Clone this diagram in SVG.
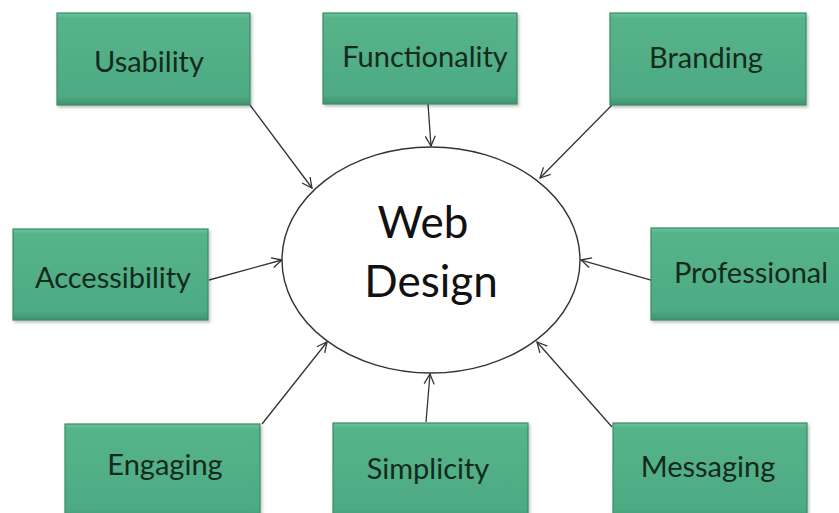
<svg xmlns="http://www.w3.org/2000/svg" width="839" height="513" viewBox="0 0 839 513">
<defs>
<linearGradient id="g" x1="0" y1="0" x2="0" y2="1">
<stop offset="0" stop-color="#6cc39b"/>
<stop offset="0.06" stop-color="#55b38a"/>
<stop offset="0.9" stop-color="#4eab83"/>
<stop offset="1" stop-color="#3f936f"/>
</linearGradient>
<filter id="sh" x="-5%" y="-5%" width="115%" height="120%">
<feDropShadow dx="1.5" dy="2" stdDeviation="1.5" flood-color="#000" flood-opacity="0.25"/>
</filter>
<marker id="arr" viewBox="0 0 12 12" refX="11" refY="6" markerWidth="12" markerHeight="12" markerUnits="userSpaceOnUse" orient="auto">
<path d="M1,1 L11,6 L1,11" fill="none" stroke="#333" stroke-width="1.3"/>
</marker>
</defs>
<style>
.box{fill:url(#g);stroke:#3a8a66;stroke-width:1.2;filter:url(#sh)}
.lbl{font-family:Lato,"Open Sans",sans-serif;font-size:29px;fill:#142a1c;text-anchor:middle}
.big{font-family:Lato,"Open Sans",sans-serif;font-size:44px;fill:#111;text-anchor:middle}
.c{stroke:#333;stroke-width:1.3;fill:none;marker-end:url(#arr)}
</style>
<rect width="839" height="513" fill="#fff"/>
<g id="connectors">
<line class="c" x1="250" y1="105" x2="312" y2="188"/>
<line class="c" x1="428" y1="104" x2="431" y2="146"/>
<line class="c" x1="612" y1="105" x2="540" y2="178"/>
<line class="c" x1="209" y1="280" x2="282" y2="260"/>
<line class="c" x1="651" y1="280" x2="581" y2="260"/>
<line class="c" x1="262" y1="424" x2="327" y2="342"/>
<line class="c" x1="426" y1="422" x2="430" y2="374"/>
<line class="c" x1="612" y1="427" x2="537" y2="342"/>
</g>
<g id="center">
<ellipse cx="431" cy="260" rx="149" ry="113" fill="#fff" stroke="#333" stroke-width="1.4"/>
<text class="big" x="423" y="238">Web</text>
<text class="big" x="431" y="297">Design</text>
</g>
<g id="usability"><rect class="box" x="57" y="13" width="193" height="92"/><text class="lbl" x="149" y="72">Usability</text></g>
<g id="functionality"><rect class="box" x="323" y="13" width="194" height="91"/><text class="lbl" x="425" y="67">Functionality</text></g>
<g id="branding"><rect class="box" x="610" y="13" width="196" height="92"/><text class="lbl" x="706" y="68">Branding</text></g>
<g id="accessibility"><rect class="box" x="13" y="229" width="195" height="91"/><text class="lbl" x="113" y="288">Accessibility</text></g>
<g id="professional"><rect class="box" x="651" y="228" width="192" height="92"/><text class="lbl" x="751" y="283">Professional</text></g>
<g id="engaging"><rect class="box" x="65" y="424" width="195" height="95"/><text class="lbl" x="165" y="475">Engaging</text></g>
<g id="simplicity"><rect class="box" x="333" y="423" width="195" height="96"/><text class="lbl" x="428" y="479">Simplicity</text></g>
<g id="messaging"><rect class="box" x="613" y="423" width="194" height="96"/><text class="lbl" x="708" y="477">Messaging</text></g>
</svg>
